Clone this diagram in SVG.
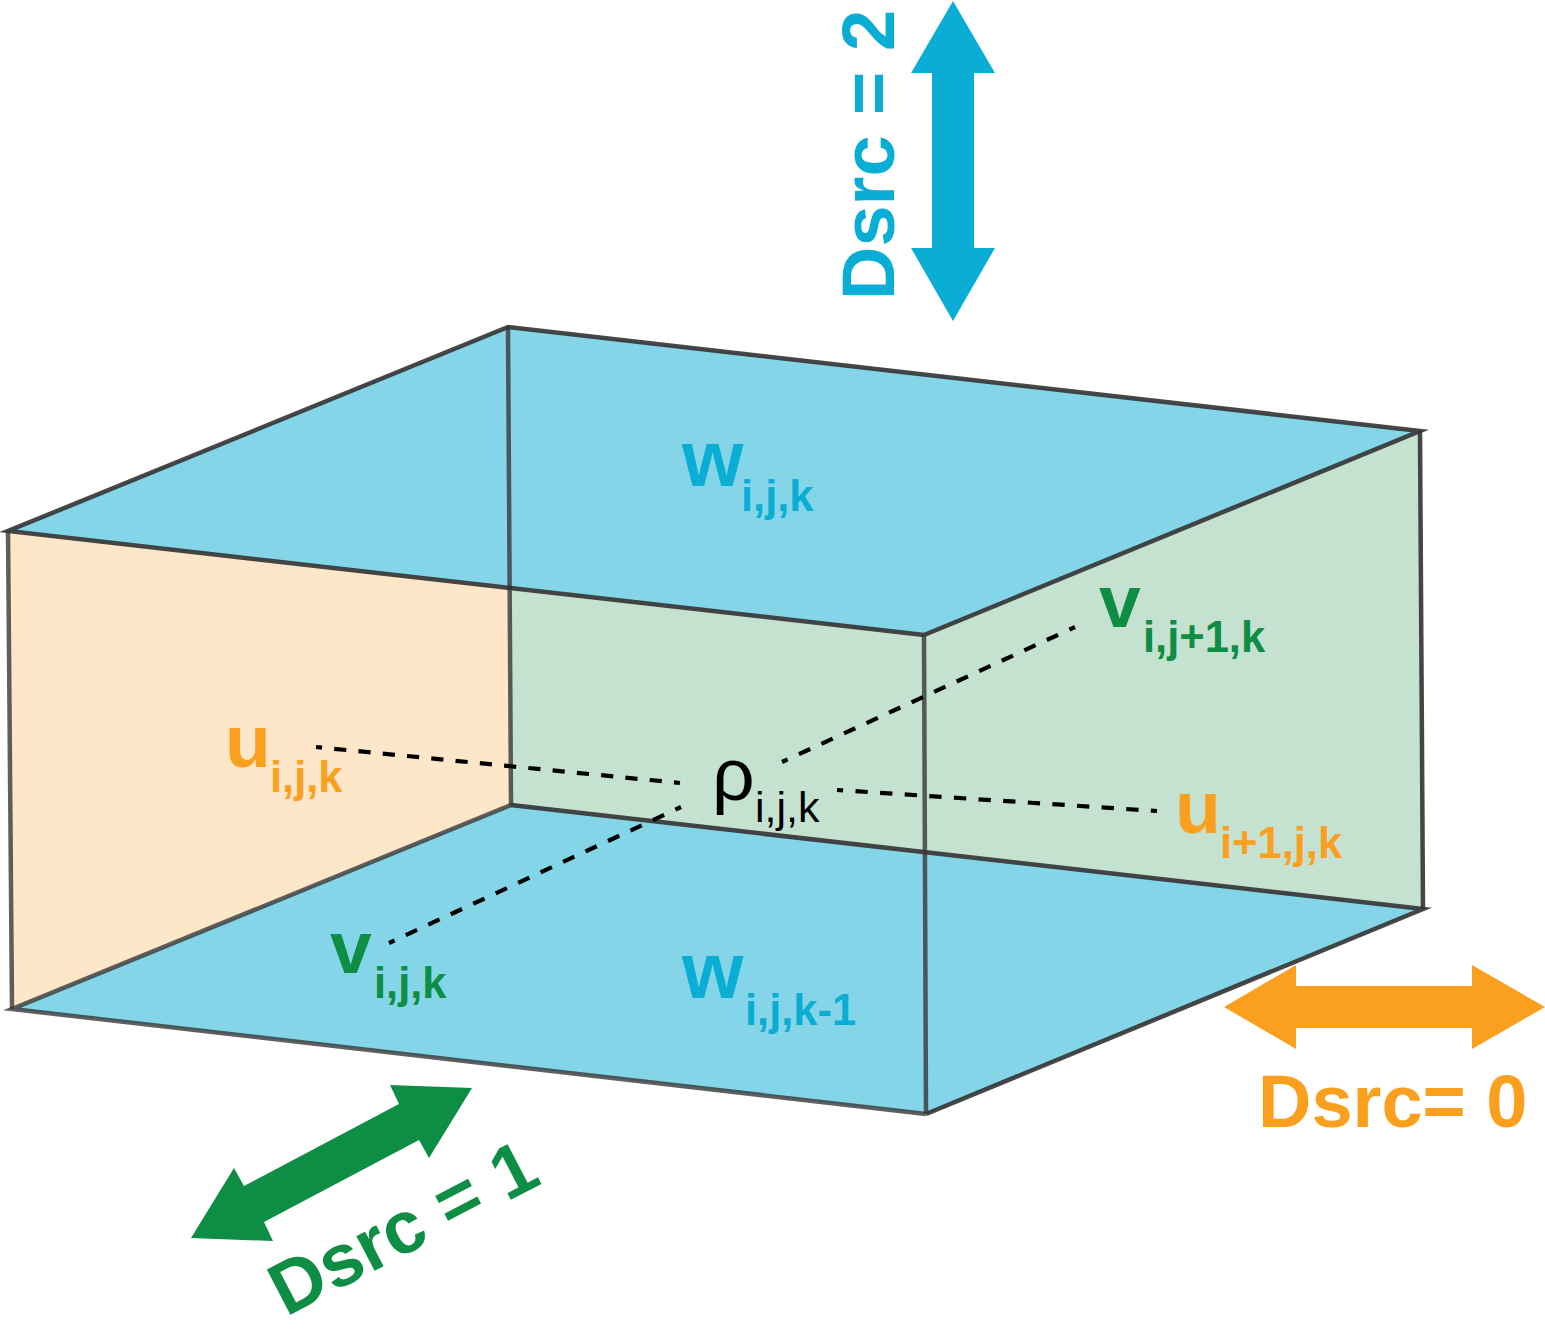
<svg xmlns="http://www.w3.org/2000/svg" width="1545" height="1344" viewBox="0 0 1545 1344">
<style>
text{font-family:"Liberation Sans",Arial,sans-serif}
.b{font-weight:bold}
.edge{fill:none;stroke:#333;stroke-opacity:.9;stroke-width:4.5;stroke-linecap:butt;stroke-linejoin:miter;stroke-miterlimit:5}
.lite{stroke-opacity:.78}
.dash{fill:none;stroke:#000;stroke-width:4.2;stroke-dasharray:12 12;stroke-dashoffset:6}
.o{fill:#fba01e}.g{fill:#0e8d44}.c{fill:#0aaed4}
.big{font-size:75px}.wide{font-size:79px}.sub{font-size:43.5px}.lab{font-size:74px}
</style>
<rect width="1545" height="1344" fill="#fff"/>
<g id="box">
<polygon points="8,531 508,327 1420,431 924,635" fill="#85d5e9"/>
<polygon points="12,1009 511,805 1423,909 926,1114" fill="#85d5e9"/>
<polygon points="8,531 509,587 511,805 12,1009" fill="#fee7c8"/>
<polygon points="509,587 924,635 1420,431 1423,909 924,853 511,805" fill="#c5e2d1"/>
<g class="edge">
<path d="M924,635L8,531L508,327L1420,431L924,635"/>
<path d="M511,805L1423,909L926,1114"/>
<path d="M926,1114L12,1009L511,805" class="lite"/>
<path class="lite" d="M8,531L12,1009"/>
<path class="lite" d="M508,327L511,805"/>
<path class="lite" d="M924,635L926,1114"/>
<path d="M1420,431L1423,909"/>
</g>
</g>
<g id="connectors">
<path class="dash" pathLength="360" d="M316,747L680,783"/>
<path class="dash" pathLength="312" d="M837,790L1157,811"/>
<path class="dash" pathLength="312" d="M782,762L1075,627"/>
<path class="dash" pathLength="312" d="M389,943L681,807"/>
</g>
<g id="arrow-z"><polygon class="c" points="953,1 995,73 974,73 974,248 995,248 953,321 911,248 932,248 932,73 911,73"/>
<text class="b c lab" transform="translate(894,300) rotate(-90)">Dsrc = 2</text></g>
<g id="arrow-x"><polygon class="o" points="1224,1007 1296,965 1296,986 1472,986 1472,965 1545,1007 1472,1049 1472,1028 1296,1028 1296,1049"/>
<text class="b o lab" x="1258" y="1127">Dsrc= 0</text></g>
<g id="arrow-y"><polygon class="g" points="472,1088 390,1085 399,1104 244,1186 234,1168 191,1238 273,1241 264,1222 419,1140 429,1158"/>
<text class="b g lab" transform="translate(286,1317) rotate(-27.5)">Dsrc = 1</text></g>
<g id="label-w-top"><text class="b c wide" x="682" y="486">w</text><text class="b c sub" x="741" y="511">i,j,k</text></g>
<g id="label-w-bottom"><text class="b c wide" x="682" y="998">w</text><text class="b c sub" x="745" y="1025">i,j,k-1</text></g>
<g id="label-u-left"><text class="b o big" x="225" y="767">u</text><text class="b o sub" x="270" y="792">i,j,k</text></g>
<g id="label-u-right"><text class="b o big" x="1175" y="833">u</text><text class="b o sub" x="1220" y="858">i+1,j,k</text></g>
<g id="label-v-back"><text class="b g big" x="1099" y="627">v</text><text class="b g sub" x="1143" y="652">i,j+1,k</text></g>
<g id="label-v-front"><text class="b g big" x="330" y="973">v</text><text class="b g sub" x="374" y="998">i,j,k</text></g>
<g id="label-rho"><text font-size="75" x="712" y="800">ρ</text><text font-size="43" x="755" y="822">i,j,k</text></g>
</svg>
